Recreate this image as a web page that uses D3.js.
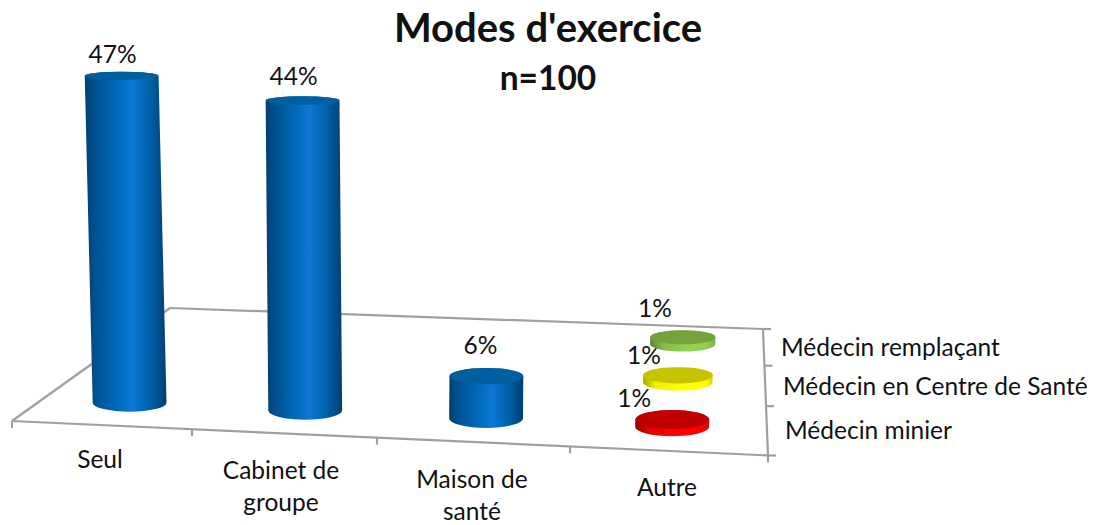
<!DOCTYPE html>
<html><head><meta charset="utf-8">
<script src="https://cdn.jsdelivr.net/npm/d3@7"></script>
<style>html,body{margin:0;padding:0;background:#fff}svg{display:block}text{font-family:Lato,"Open Sans",sans-serif;fill:#111}</style>
</head><body><svg id="c" width="1104" height="525"></svg>
<script>
const title = "Modes d'exercice";
const subtitle = "n=100";
const categories = ["Seul","Cabinet de groupe","Maison de santé","Autre"];
const seriesNames = ["Médecin minier","Médecin en Centre de Santé","Médecin remplaçant"];
const mainValues = [47,44,6];
const autreValues = [1,1,1];

const svg = d3.select("#c");

// Perspective floor, category axis u (0..4) and series axis v (0..1)
const frontX = d3.scaleLinear().domain([0,1,2,3,4]).range([12,192,377,570,768]);
const backX = d3.scaleLinear().domain([0,3.5,4]).range([170,685,763]);
const frontY = d3.scaleLinear().domain([12,769]).range([421,455.5]);
const backY = d3.scaleLinear().domain([170,763]).range([308,329]);
const depth = d3.scaleLinear().domain([0,1,2,3]).range([0,.39,.71,1]);
function floor(u,d){
  const v = depth(d);
  const fx = frontX(u), bx = backX(u);
  const fy = frontY(fx), by = backY(bx);
  return [fx+(bx-fx)*v, fy+(by-fy)*v];
}
const valuePx = d3.scaleLinear().domain([0,44,47]).range([0,310,327]);
const ryAt = d3.scaleLinear().domain([76,338,420]).range([4,7,9.5]);
const rxAt = d3.scaleLinear().domain([0,3]).range([38,31.5]);
const leanAt = x => (x-400)*9e-5;

// Gradients
const defs = svg.append("defs");
function grad(id,stops){
  const g = defs.append("linearGradient").attr("id",id).attr("x1",0).attr("x2",1).attr("y1",0).attr("y2",0);
  stops.forEach(s=>g.append("stop").attr("offset",s[0]).attr("stop-color",s[1]));
}
grad("blue",[[0,"#003f73"],[.12,"#00508f"],[.35,"#0066b3"],[.58,"#0a78d4"],[.8,"#0060a8"],[1,"#003f73"]]);
grad("green",[[0,"#5f8238"],[.2,"#86bb4a"],[.55,"#92d050"],[.85,"#92d050"],[1,"#7fb046"]]);
grad("yellow",[[0,"#a8a800"],[.18,"#eeee00"],[.55,"#ffff00"],[.9,"#ffff00"],[1,"#d8d800"]]);
grad("red",[[0,"#8c0000"],[.18,"#df0000"],[.55,"#ff0000"],[.9,"#ff0000"],[1,"#cc0000"]]);

// Floor and axes
const axis = "#a0a0a0";
function line(a,b,w){
  svg.append("line").attr("x1",a[0]).attr("y1",a[1]).attr("x2",b[0]).attr("y2",b[1])
    .attr("stroke",axis).attr("stroke-width",w||2.2);
}
line(floor(0,0),floor(4,0));
line(floor(0,3),floor(4,3));
line(floor(0,0),floor(0,3));
line(floor(4,0),floor(4,3));
d3.range(5).forEach(u=>{const p=floor(u,0); line(p,[p[0],p[1]+7]);});
d3.range(4).forEach(d=>{const p=floor(4,d); line(p,[p[0]+8,p[1]]);});

// Cylinders
function cylinder(u,d,val,fill,topFill){
  const [bx,by] = floor(u,d);
  const h = valuePx(val);
  const tx = bx+leanAt(bx)*h, ty = by-h;
  const rx = rxAt(d), rb = ryAt(by), rt = ryAt(ty);
  const g = svg.append("g");
  g.append("path").attr("fill",`url(#${fill})`)
    .attr("d",`M${tx-rx},${ty}L${bx-rx},${by}A${rx},${rb} 0 0 0 ${bx+rx},${by}L${tx+rx},${ty}A${rx},${rt} 0 0 0 ${tx-rx},${ty}Z`);
  g.append("ellipse").attr("cx",tx).attr("cy",ty).attr("rx",rx).attr("ry",rt).attr("fill",topFill);
  return [tx,ty];
}
const mainOffsets = [[-9,-13],[-9,-15],[-6,-22]];
const autreOffsets = [[-38,-13],[-34,-11],[-28,-20]];
const autreFills = [["red","#c00000"],["yellow","#c6c400"],["green","#76a23e"]];
function label(p,o,v){
  svg.append("text").attr("x",p[0]+o[0]).attr("y",p[1]+o[1]).attr("text-anchor","middle")
    .attr("font-size",24.5).text(v+"%");
}
mainValues.forEach((v,i)=>{
  const p = cylinder(i+.5,.5,v,"blue","#00609f");
  label(p,mainOffsets[i],v);
});
autreValues.forEach((v,i)=>{
  const p = cylinder(3.5,i+.5,v,autreFills[i][0],autreFills[i][1]);
  label(p,autreOffsets[i],v);
});

// Text
svg.append("text").attr("x",548).attr("y",42).attr("text-anchor","middle").attr("font-size",40).attr("font-weight",700).text(title);
svg.append("text").attr("x",548).attr("y",90).attr("text-anchor","middle").attr("font-size",33.5).attr("font-weight",700).text(subtitle);

const catLayout = [[100,[468]],[281,[479,511]],[472,[488,520]],[667,[496]]];
const catLines = [["Seul"],["Cabinet de","groupe"],["Maison de","santé"],["Autre"]];
categories.forEach((c,i)=>{
  catLines[i].forEach((t,j)=>{
    svg.append("text").attr("x",catLayout[i][0]).attr("y",catLayout[i][1][j]).attr("text-anchor","middle").attr("font-size",24.5).text(t);
  });
});
const serLayout = [[785,439],[783,395],[781,356]];
seriesNames.forEach((s,i)=>{
  svg.append("text").attr("x",serLayout[i][0]).attr("y",serLayout[i][1]).attr("font-size",24.5).text(s);
});
</script></body></html>
